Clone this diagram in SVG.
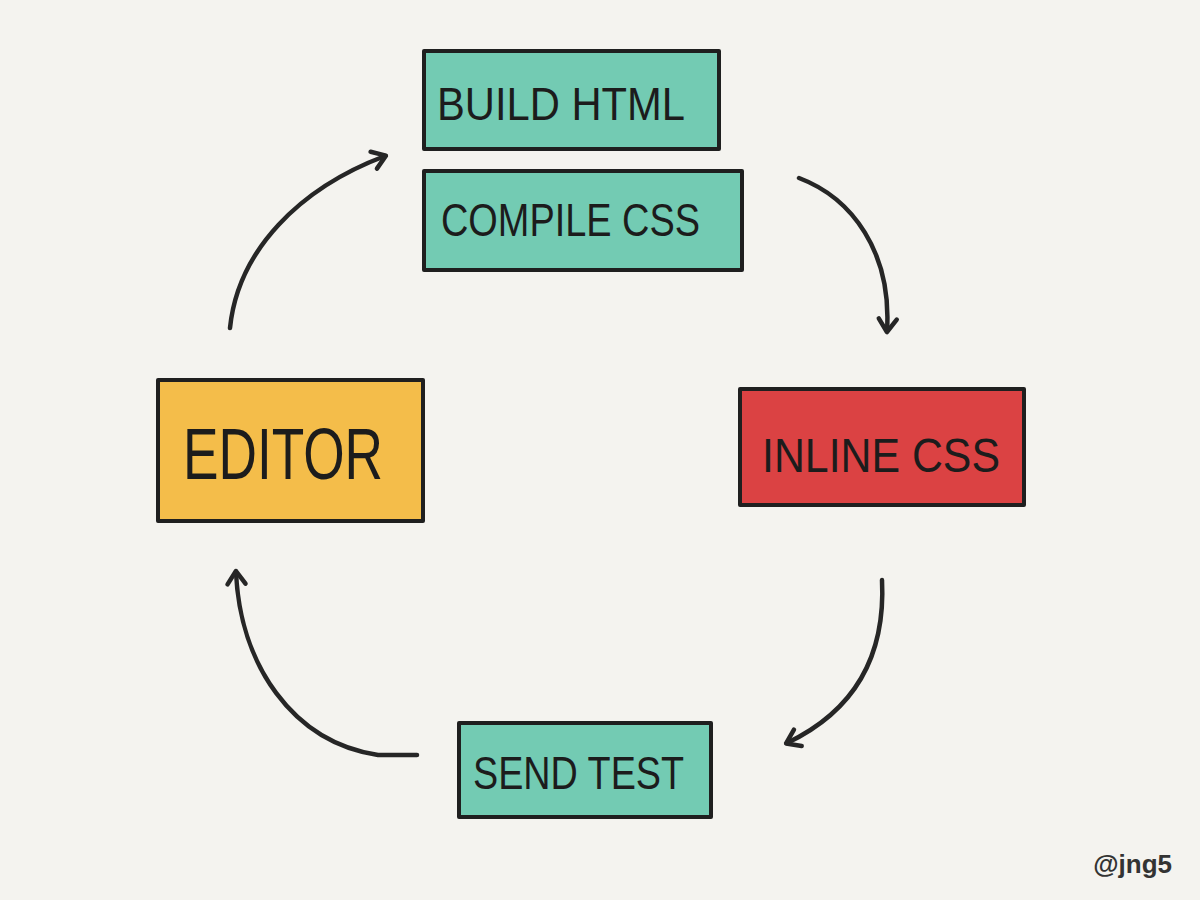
<svg xmlns="http://www.w3.org/2000/svg" width="1200" height="900" viewBox="0 0 1200 900">
<style>
.box{stroke:#1f1f1f;stroke-width:4;stroke-linejoin:round}
.teal{fill:#73cbb3}
.yellow{fill:#f4bd4a}
.red{fill:#db4243}
.lbl{font-family:"Liberation Sans","DejaVu Sans",sans-serif;fill:#1c1c1c;font-weight:normal}
.conn{fill:none;stroke:#262626;stroke-width:4.5;stroke-linecap:round;stroke-linejoin:round}
</style>
<defs>
<marker id="ah" viewBox="0 0 24 24" refX="17" refY="12" markerWidth="24" markerHeight="24" markerUnits="userSpaceOnUse" orient="auto">
<path d="M5,3 L18,12 L5,21" fill="none" stroke="#262626" stroke-width="4.5" stroke-linecap="round" stroke-linejoin="round"/>
</marker>
</defs>
<rect width="1200" height="900" fill="#f4f3ef"/>
<g id="build-html">
<rect class="box teal" x="424" y="51" width="295" height="98"/>
<text class="lbl" x="437" y="120" font-size="46" textLength="248" lengthAdjust="spacingAndGlyphs">BUILD HTML</text>
</g>
<g id="compile-css">
<rect class="box teal" x="424" y="171" width="318" height="99"/>
<text class="lbl" x="441" y="236" font-size="46" textLength="259" lengthAdjust="spacingAndGlyphs">COMPILE CSS</text>
</g>
<g id="editor">
<rect class="box yellow" x="158" y="380" width="265" height="141"/>
<text class="lbl" x="183" y="479" font-size="72" textLength="200" lengthAdjust="spacingAndGlyphs">EDITOR</text>
</g>
<g id="inline-css">
<rect class="box red" x="740" y="389" width="284" height="116"/>
<text class="lbl" x="762" y="472" font-size="48" textLength="238" lengthAdjust="spacingAndGlyphs">INLINE CSS</text>
</g>
<g id="send-test">
<rect class="box teal" x="459" y="723" width="252" height="94"/>
<text class="lbl" x="473" y="789" font-size="46" textLength="211" lengthAdjust="spacingAndGlyphs">SEND TEST</text>
</g>
<g id="connectors">
<path class="conn" marker-end="url(#ah)" d="M230,328 C238,250 300,188 385,156"/>
<path class="conn" marker-end="url(#ah)" d="M799,178 C852,198 892,252 887,331"/>
<path class="conn" marker-end="url(#ah)" d="M882,580 C886,660 852,712 787,743"/>
<path class="conn" marker-end="url(#ah)" d="M417,755 L378,755 C292,742 240,664 236,572"/>
</g>
<text x="1172" y="873" text-anchor="end" font-family="Liberation Sans, Arial, sans-serif" font-weight="bold" font-size="26" fill="#333">@jng5</text>
</svg>
